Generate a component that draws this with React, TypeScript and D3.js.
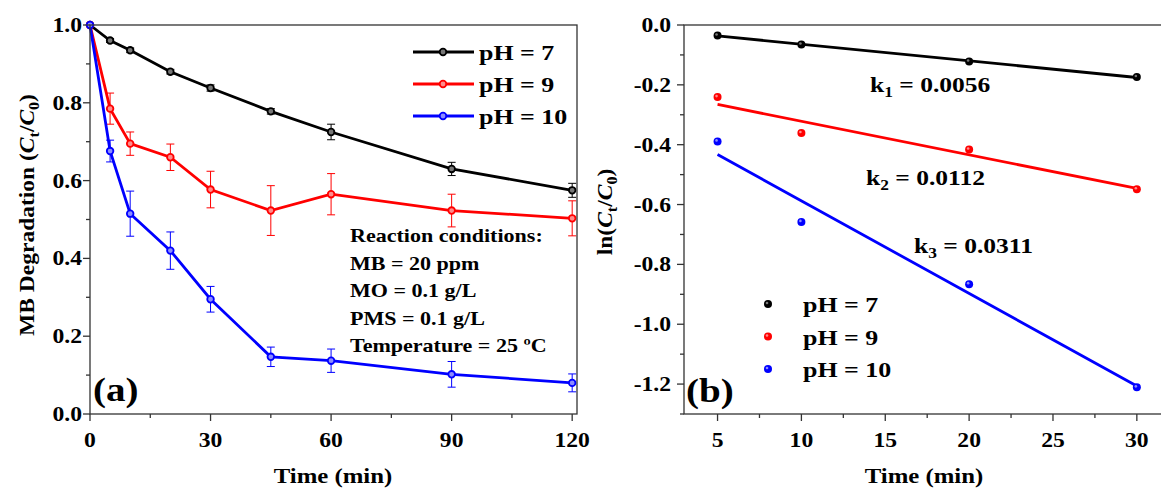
import React from "react";
import * as d3 from "d3";

// panel (a): degradation over time
const times = [0, 5, 10, 20, 30, 45, 60, 90, 120];
const ph7 = [1.0, 0.96, 0.935, 0.88, 0.838, 0.778, 0.725, 0.63, 0.575];
const ph7Err = [0, 0.005, 0.006, 0.006, 0.008, 0.007, 0.02, 0.017, 0.018];
const ph9 = [1.0, 0.785, 0.695, 0.66, 0.577, 0.523, 0.565, 0.523, 0.503];
const ph9Err = [0, 0.04, 0.03, 0.034, 0.047, 0.064, 0.053, 0.042, 0.045];
const ph10 = [1.0, 0.676, 0.515, 0.42, 0.295, 0.147, 0.137, 0.102, 0.08];
const ph10Err = [0, 0.028, 0.058, 0.048, 0.033, 0.025, 0.03, 0.033, 0.023];

// panel (b): ln(Ct/C0) kinetics
const kTimes = [5, 10, 20, 30];
const ln7 = [-0.035, -0.065, -0.122, -0.174];
const ln9 = [-0.241, -0.361, -0.416, -0.549];
const ln10 = [-0.389, -0.658, -0.866, -1.211];
const kValues = ["0.0056", "0.0112", "0.0311"];

const seriesNames = ["pH = 7", "pH = 9", "pH = 10"];
const colors = ["#000000", "#ff0000", "#0000ff"];
const fills = ["#777777", "#ff8c8c", "#8c8cff"];
const conditions = [
  "Reaction conditions:",
  "MB = 20 ppm",
  "MO = 0.1 g/L",
  "PMS = 0.1 g/L",
  "Temperature = 25 \u00baC",
];

const FONT = "'Liberation Serif', 'Times New Roman', serif";
const AXIS = "#333";
// the source figure is a bit stretched sideways, so text gets a horizontal scale
const SX = 1.18;

const fit = (xs: number[], ys: number[]) => {
  const mx = d3.mean(xs)!;
  const my = d3.mean(ys)!;
  const sxy = d3.sum(xs.map((x, i) => (x - mx) * (ys[i] - my)));
  const sxx = d3.sum(xs.map((x) => (x - mx) ** 2));
  const b = sxy / sxx;
  return (x: number) => my + b * (x - mx);
};

// subscript followed by the text that goes back on the baseline
const Sub = ({ t, after }: { t: string; after: string }) => (
  <>
    <tspan dy={5} fontSize="0.68em">{t}</tspan>
    <tspan dy={-5}>{after}</tspan>
  </>
);

type TProps = {
  x: number;
  y: number;
  size: number;
  anchor?: string;
  sx?: number;
  rotate?: number;
  children: React.ReactNode;
};

const T = ({ x, y, size, anchor = "start", sx = SX, rotate = 0, children }: TProps) => (
  <text
    transform={`translate(${x},${y}) rotate(${rotate}) scale(${sx},1)`}
    fontSize={size}
    textAnchor={anchor}
  >
    {children}
  </text>
);

const App = () => {
  // panel (a) scales
  const xa = d3.scaleLinear().domain([0, 121.2]).range([90, 577]);
  const ya = d3.scaleLinear().domain([0, 1.0]).range([414, 25]);
  // panel (b) scales
  const xb = d3.scaleLinear().domain([3, 31.5]).range([684, 1162]);
  const yb = d3.scaleLinear().domain([-1.3, 0]).range([414, 25]);

  const seriesA = [ph7, ph9, ph10];
  const errA = [ph7Err, ph9Err, ph10Err];
  const seriesB = [ln7, ln9, ln10];

  const lineA = d3
    .line<number>()
    .x((_, i) => xa(times[i]))
    .y((d) => ya(d));

  const xaMajor = [0, 30, 60, 90, 120];
  const xaMinor = [15, 45, 75, 105];
  const yaMajor = d3.range(0, 1.01, 0.2);
  const yaMinor = d3.range(0.1, 1.0, 0.2);

  const xbMajor = [5, 10, 15, 20, 25, 30];
  const xbMinor = [7.5, 12.5, 17.5, 22.5, 27.5];
  const ybMajor = d3.range(0, -1.21, -0.2);
  const ybMinor = d3.range(-0.1, -1.31, -0.2);

  const bottom = 414;

  return (
    <svg
      width={1161}
      height={492}
      style={{ position: "absolute", left: 0, top: 0, background: "#fff" }}
      fontFamily={FONT}
      fontWeight="bold"
    >
      {/* ---------- panel (a) ---------- */}
      <g>
        {errA.map((errs, s) =>
          errs.map((e, i) =>
            e > 0 ? (
              <g key={`ea${s}-${i}`} stroke={colors[s]} strokeWidth={1}>
                <line x1={xa(times[i])} x2={xa(times[i])} y1={ya(seriesA[s][i] - e)} y2={ya(seriesA[s][i] + e)} />
                <line x1={xa(times[i]) - 4} x2={xa(times[i]) + 4} y1={ya(seriesA[s][i] - e)} y2={ya(seriesA[s][i] - e)} />
                <line x1={xa(times[i]) - 4} x2={xa(times[i]) + 4} y1={ya(seriesA[s][i] + e)} y2={ya(seriesA[s][i] + e)} />
              </g>
            ) : null
          )
        )}
        {seriesA.map((vals, s) => (
          <path key={`la${s}`} d={lineA(vals)!} fill="none" stroke={colors[s]} strokeWidth={2.8} />
        ))}
        {seriesA.map((vals, s) =>
          vals.map((v, i) => (
            <circle key={`ca${s}-${i}`} cx={xa(times[i])} cy={ya(v)} r={3.3} fill={fills[s]} stroke={colors[s]} strokeWidth={1.8} />
          ))
        )}

        {/* frame */}
        <rect x={90} y={25} width={487} height={389} fill="none" stroke={AXIS} strokeWidth={1.3} />
        {xaMajor.map((t) => (
          <g key={`xat${t}`}>
            <line x1={xa(t)} x2={xa(t)} y1={bottom} y2={bottom + 7} stroke={AXIS} strokeWidth={1.3} />
            <T x={xa(t)} y={447} size={20} anchor="middle">{t}</T>
          </g>
        ))}
        {xaMinor.map((t) => (
          <line key={`xam${t}`} x1={xa(t)} x2={xa(t)} y1={bottom} y2={bottom + 4} stroke={AXIS} strokeWidth={1.3} />
        ))}
        {yaMajor.map((v) => (
          <g key={`yat${v}`}>
            <line x1={83} x2={90} y1={ya(v)} y2={ya(v)} stroke={AXIS} strokeWidth={1.3} />
            <T x={82} y={ya(v) + 7} size={20} anchor="end">{v.toFixed(1)}</T>
          </g>
        ))}
        {yaMinor.map((v) => (
          <line key={`yam${v}`} x1={86} x2={90} y1={ya(v)} y2={ya(v)} stroke={AXIS} strokeWidth={1.3} />
        ))}

        <T x={333} y={483} size={21} anchor="middle">Time (min)</T>
        <T x={34} y={215} size={21} anchor="middle" rotate={-90} sx={1.12}>
          <tspan>MB Degradation (</tspan>
          <tspan fontStyle="italic">C</tspan>
          <Sub t="t" after="/" />
          <tspan fontStyle="italic">C</tspan>
          <Sub t="0" after=")" />
        </T>

        {/* legend */}
        {seriesNames.map((n, s) => {
          const y = 52 + s * 32;
          return (
            <g key={`lga${s}`}>
              <line x1={413} x2={474} y1={y} y2={y} stroke={colors[s]} strokeWidth={2.8} />
              <circle cx={443} cy={y} r={3.3} fill={fills[s]} stroke={colors[s]} strokeWidth={1.8} />
              <T x={479} y={y + 8} size={22}>{n}</T>
            </g>
          );
        })}

        {conditions.map((c, i) => (
          <T key={`cond${i}`} x={350} y={242 + i * 27.5} size={19} sx={1.16}>{c}</T>
        ))}
        <T x={93} y={401} size={34} sx={1.15}>(a)</T>
      </g>

      {/* ---------- panel (b) ---------- */}
      <g>
        {seriesB.map((vals, s) => {
          const f = fit(kTimes, vals);
          return (
            <line key={`fb${s}`} x1={xb(5)} x2={xb(30)} y1={yb(f(5))} y2={yb(f(30))} stroke={colors[s]} strokeWidth={2.8} />
          );
        })}
        {seriesB.map((vals, s) =>
          vals.map((v, i) => (
            <g key={`cb${s}-${i}`}>
              <circle cx={xb(kTimes[i])} cy={yb(v)} r={4} fill={colors[s]} />
              <circle cx={xb(kTimes[i]) - 1} cy={yb(v) - 1} r={1.3} fill={fills[s]} />
            </g>
          ))
        )}

        <rect x={684} y={25} width={478} height={389} fill="none" stroke={AXIS} strokeWidth={1.3} />
        {xbMajor.map((t) => (
          <g key={`xbt${t}`}>
            <line x1={xb(t)} x2={xb(t)} y1={bottom} y2={bottom + 7} stroke={AXIS} strokeWidth={1.3} />
            <T x={xb(t)} y={447} size={20} anchor="middle">{t}</T>
          </g>
        ))}
        {xbMinor.map((t) => (
          <line key={`xbm${t}`} x1={xb(t)} x2={xb(t)} y1={bottom} y2={bottom + 4} stroke={AXIS} strokeWidth={1.3} />
        ))}
        {ybMajor.map((v) => (
          <g key={`ybt${v}`}>
            <line x1={677} x2={684} y1={yb(v)} y2={yb(v)} stroke={AXIS} strokeWidth={1.3} />
            <T x={671} y={yb(v) + 7} size={20} anchor="end">
              {Math.abs(v) < 1e-9 ? "0.0" : v.toFixed(1)}
            </T>
          </g>
        ))}
        {ybMinor.map((v) => (
          <line key={`ybm${v}`} x1={680} x2={684} y1={yb(v)} y2={yb(v)} stroke={AXIS} strokeWidth={1.3} />
        ))}

        <T x={924} y={483} size={21} anchor="middle">Time (min)</T>
        <T x={612} y={212} size={21} anchor="middle" rotate={-90} sx={1.12}>
          <tspan>ln(</tspan>
          <tspan fontStyle="italic">C</tspan>
          <Sub t="t" after="/" />
          <tspan fontStyle="italic">C</tspan>
          <Sub t="0" after=")" />
        </T>

        {[
          [870, 92],
          [866, 185],
          [914, 253],
        ].map(([x, y], s) => (
          <T key={`k${s}`} x={x} y={y} size={22} sx={1.16}>
            <tspan>k</tspan>
            <Sub t={String(s + 1)} after={` = ${kValues[s]}`} />
          </T>
        ))}

        {seriesNames.map((n, s) => {
          const y = 304 + s * 32.5;
          return (
            <g key={`lgb${s}`}>
              <circle cx={768} cy={y} r={4} fill={colors[s]} />
              <circle cx={767} cy={y - 1} r={1.3} fill={fills[s]} />
              <T x={803} y={y + 8} size={22}>{n}</T>
            </g>
          );
        })}
        <T x={686} y={402} size={34} sx={1.15}>(b)</T>
      </g>
    </svg>
  );
};

export default App;
